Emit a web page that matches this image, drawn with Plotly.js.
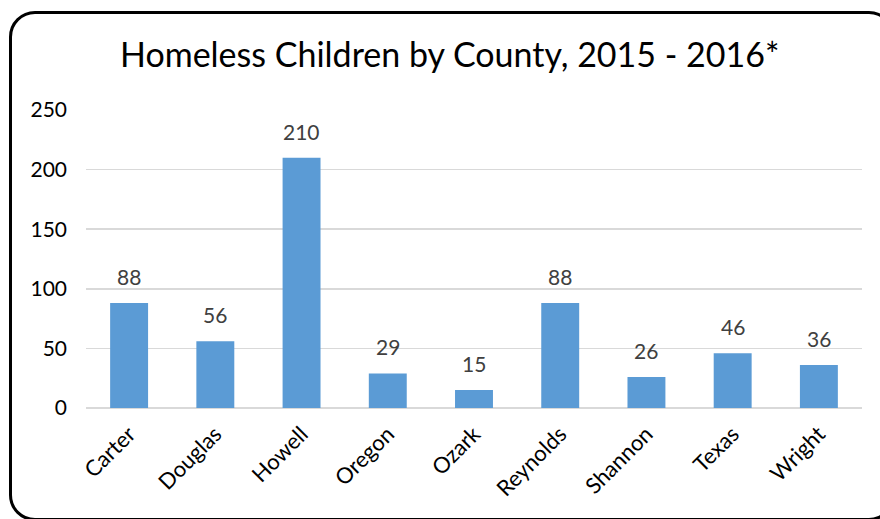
<!DOCTYPE html>
<html>
<head>
<meta charset="utf-8">
<script src="https://cdn.plot.ly/plotly-3.0.1.min.js"></script>
<style>
html, body { margin:0; padding:0; width:880px; height:519px; overflow:hidden; background:#fff; }
#frame { position:absolute; left:9px; top:11px; width:880px; height:504px; border:3px solid #000; border-radius:26px; box-sizing:content-box; }
#chart { position:absolute; left:0; top:0; width:880px; height:519px; }
</style>
</head>
<body>
<div id="frame"></div>
<div id="chart"></div>
<script>
const counties = ["Carter", "Douglas", "Howell", "Oregon", "Ozark", "Reynolds", "Shannon", "Texas", "Wright"];
const children = [88, 56, 210, 29, 15, 88, 26, 46, 36];
const yTicks = [0, 50, 100, 150, 200, 250];

const FONT = "Lato, 'Open Sans', sans-serif";

const labels = counties.map((c, i) => ({
  x: c, y: children[i], xref: "x", yref: "y",
  text: String(children[i]),
  showarrow: false,
  yanchor: "bottom",
  yshift: 12,
  font: { family: FONT, size: 21, color: "#404040" }
}));

Plotly.newPlot("chart", [{
  type: "bar",
  x: counties,
  y: children,
  marker: { color: "#5B9BD5" },
  hoverinfo: "none"
}], {
  width: 880, height: 519,
  paper_bgcolor: "rgba(0,0,0,0)",
  plot_bgcolor: "rgba(0,0,0,0)",
  margin: { l: 86, r: 18, t: 110, b: 111 },
  bargap: 0.56,
  showlegend: false,
  annotations: labels,
  title: {
    text: "Homeless Children by County, 2015 - 2016*",
    font: { family: FONT, size: 34, color: "#000" },
    x: 0.511, xanchor: "center",
    y: 0.87, yanchor: "bottom"
  },
  xaxis: {
    tickangle: -45,
    tickfont: { family: FONT, size: 22, color: "#000" },
    showgrid: false,
    showline: false,
    ticks: "",
    ticklabelstandoff: 8
  },
  yaxis: {
    range: [0, 250],
    tickvals: yTicks,
    ticktext: yTicks.map(String),
    tickfont: { family: FONT, size: 21, color: "#000" },
    gridcolor: "#D9D9D9",
    gridwidth: 1.5,
    zeroline: true,
    zerolinecolor: "#D9D9D9",
    zerolinewidth: 1.5,
    showline: false,
    ticks: "",
    ticklabelstandoff: 18
  }
}, { displayModeBar: false, staticPlot: true });
</script>
</body>
</html>
